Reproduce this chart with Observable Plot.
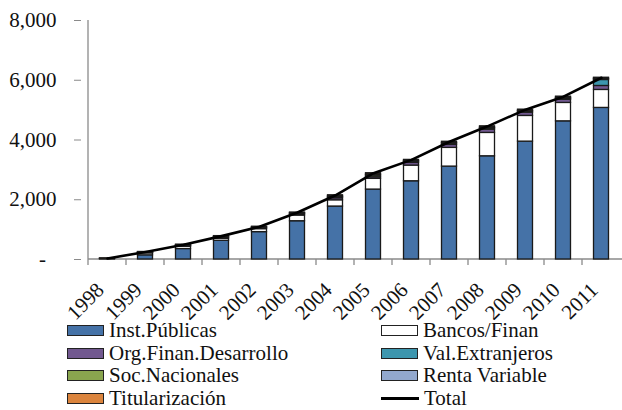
<!DOCTYPE html>
<html>
<head>
<meta charset="utf-8">
<script src="https://cdn.jsdelivr.net/npm/d3@7"></script>
<script src="https://cdn.jsdelivr.net/npm/@observablehq/plot@0.6"></script>
<style>
  body { margin: 0; background: #fff; overflow: hidden; font-family: "Liberation Serif", "Times New Roman", serif; }
  #chart svg { overflow: visible; }
  #legend { display: grid; grid-template-columns: 314px 240px; margin-left: 67px; }
  .item { display: flex; align-items: center; height: 22.8px; font-size: 21px; line-height: 1; color: #111; white-space: nowrap; }
  .sw { width: 35px; height: 9px; border: 1.5px solid #222; margin-right: 5px; flex: none; }
  .ln { width: 38px; height: 3px; background: #000; margin-right: 5px; flex: none; }
</style>
</head>
<body>
<div id="chart"></div>
<div id="legend"></div>
<script>
// Years on the category axis
const years = ["1998", "1999", "2000", "2001", "2002", "2003", "2004",
               "2005", "2006", "2007", "2008", "2009", "2010", "2011"];

// Holdings by issuer type (millions of US$), stacked bottom to top
const instPublicas       = [20, 140, 350, 627, 917, 1281, 1773, 2341, 2619, 3110, 3455, 3946, 4625, 5074];
const bancosFinan        = [10, 67, 77, 66, 100, 191, 210, 358, 525, 626, 782, 860, 616, 602];
const orgFinanDesarrollo = [0, 10, 20, 30, 30, 40, 67, 54, 90, 100, 111, 110, 110, 133];
const valExtranjeros     = [0, 0, 0, 0, 0, 0, 0, 0, 0, 0, 0, 0, 10, 200];
const socNacionales      = [0, 15, 20, 25, 20, 25, 40, 55, 40, 45, 45, 40, 35, 30];
const rentaVariable      = [0, 10, 15, 15, 15, 15, 25, 35, 25, 25, 25, 25, 25, 20];
const titularizacion     = [5, 10, 15, 20, 15, 20, 35, 45, 35, 35, 40, 35, 30, 25];

const seriesNames = ["Inst.Públicas", "Bancos/Finan", "Org.Finan.Desarrollo", "Val.Extranjeros",
                     "Soc.Nacionales", "Renta Variable", "Titularización"];
const seriesValues = [instPublicas, bancosFinan, orgFinanDesarrollo, valExtranjeros,
                      socNacionales, rentaVariable, titularizacion];
const seriesColors = ["#4572A7", "#FFFFFF", "#71588F", "#3D96AE", "#89A54E", "#92A8CD", "#DB843D"];

const yTicks = [0, 2000, 4000, 6000, 8000];

// Long table for the stacked bars
const rows = [];
seriesNames.forEach((name, s) => {
  years.forEach((year, i) => {
    const v = seriesValues[s][i];
    if (v > 0) rows.push({year, serie: name, value: v});
  });
});

// Total per year for the line
const totals = years.map((year, i) => ({year, total: d3.sum(seriesValues, arr => arr[i])}));

// Axis lines and category tick marks between bars
function axisLines(index, scales, values, dims) {
  const x = scales.x, y = scales.y;
  const g = d3.create("svg:g").attr("stroke", "#8a8a8a").attr("stroke-width", 1.3).attr("fill", "none");
  const x0 = x(years[0]);
  const y0 = y(0);
  g.append("line").attr("x1", x0).attr("x2", dims.width).attr("y1", y0).attr("y2", y0);
  g.append("line").attr("x1", x0).attr("x2", x0).attr("y1", y(yTicks[yTicks.length - 1])).attr("y2", y0);
  for (const yr of years) {
    const bx = x(yr);
    g.append("line").attr("x1", bx).attr("x2", bx).attr("y1", y0).attr("y2", y0 + 6);
  }
  return g.node();
}

const fmt = d3.format(",");

const chart = Plot.plot({
  width: 622,
  height: 319,
  marginTop: 20,
  marginLeft: 81,
  marginRight: 0,
  marginBottom: 60,
  style: {fontFamily: "'Liberation Serif', 'Times New Roman', serif", fontSize: "21px", background: "white"},
  x: {domain: years, range: [81, 626], padding: 0, axis: null},
  y: {domain: [0, 8000], range: [259, 20], axis: null},
  color: {domain: seriesNames, range: seriesColors},
  marks: [
    axisLines,
    Plot.axisY({
      ticks: yTicks,
      tickSize: 7,
      tickPadding: 18,
      stroke: "#8a8a8a",
      fill: "#111",
      fontSize: 21,
      tickFormat: d => d === 0 ? "-\u00a0\u00a0" : fmt(d)
    }),
    Plot.barY(rows, {
      x: "year",
      y: "value",
      fill: "serie",
      order: seriesNames,
      insetLeft: 11.5,
      insetRight: 11.5,
      stroke: "#1a1a1a",
      strokeWidth: 1.3
    }),
    Plot.lineY(totals, {x: "year", y: "total", stroke: "#000", strokeWidth: 2.6}),
    Plot.text(years, {
      x: d => d,
      y: () => 0,
      text: d => d,
      rotate: -45,
      textAnchor: "end",
      dx: -7,
      dy: 27,
      fontSize: 21,
      fill: "#111"
    })
  ]
});
document.getElementById("chart").appendChild(chart);

// Legend below the plot, two columns, row by row
const legend = d3.select("#legend");
const legendEntries = seriesNames.map((name, i) => ({name, color: seriesColors[i], kind: "bar"}))
  .concat([{name: "Total", kind: "line"}]);
for (const e of legendEntries) {
  const item = legend.append("div").attr("class", "item");
  if (e.kind === "bar") item.append("span").attr("class", "sw").style("background", e.color);
  else item.append("span").attr("class", "ln");
  item.append("span").text(e.name);
}
</script>
</body>
</html>
